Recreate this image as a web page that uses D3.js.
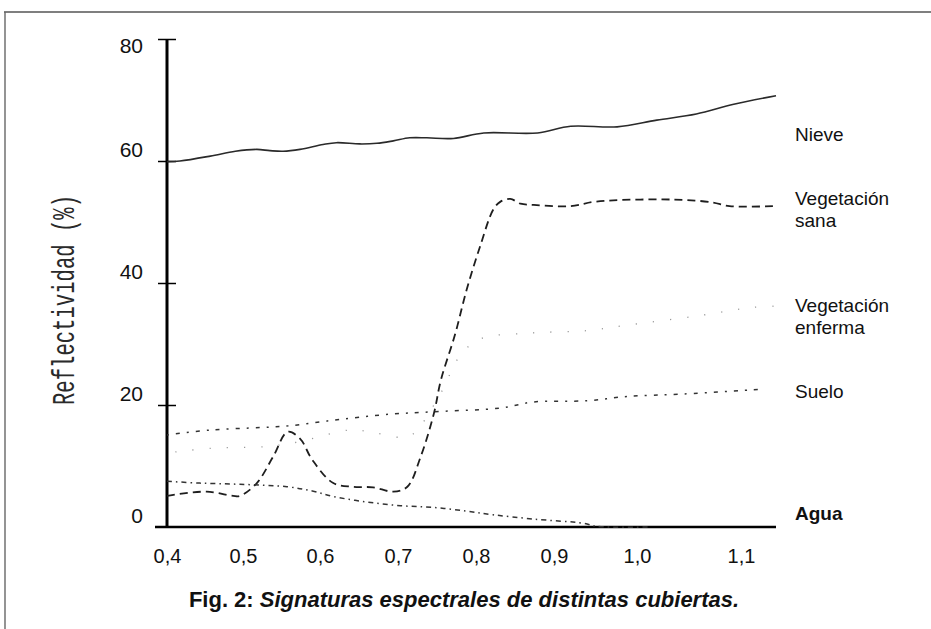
<!DOCTYPE html>
<html>
<head>
<meta charset="utf-8">
<script src="https://cdn.jsdelivr.net/npm/d3@7"></script>
<style>
  body { margin: 0; background: #fff; }
  svg { display: block; }
</style>
</head>
<body>
<script>
  // wavelength (µm) ticks and reflectance (%) ticks
  const waveTicks = [0.4, 0.5, 0.6, 0.7, 0.8, 0.9, 1.0, 1.1];
  const reflTicks = [0, 20, 40, 60, 80];

  // [wavelength, reflectance %]
  const nieve = [
    [0.40, 59.9], [0.417, 60.0], [0.457, 60.8], [0.49, 61.6], [0.518, 61.9],
    [0.535, 61.7], [0.552, 61.6], [0.574, 61.9], [0.604, 62.7], [0.621, 63.0],
    [0.651, 62.8], [0.673, 62.9], [0.694, 63.3], [0.715, 63.8], [0.737, 63.8],
    [0.771, 63.7], [0.81, 64.6], [0.879, 64.6], [0.92, 65.7], [0.976, 65.6],
    [1.019, 66.7], [1.057, 67.7], [1.093, 69.3], [1.134, 70.7]
  ];
  const vegSana = [
    [0.40, 5.1], [0.452, 5.8], [0.487, 5.1], [0.496, 5.1], [0.518, 7.2],
    [0.539, 11.5], [0.558, 15.6], [0.574, 14.5], [0.59, 11.0], [0.617, 7.2],
    [0.642, 6.6], [0.668, 6.5], [0.694, 5.8], [0.712, 6.6], [0.729, 11.5],
    [0.746, 18.6], [0.755, 24.1], [0.773, 31.5], [0.788, 38.9], [0.805, 45.9],
    [0.822, 52.0], [0.831, 53.3], [0.844, 53.8], [0.857, 53.0], [0.874, 52.8],
    [0.92, 52.6], [0.948, 53.3], [0.98, 53.6], [1.022, 53.7], [1.048, 53.6],
    [1.073, 53.2], [1.089, 52.6], [1.131, 52.6]
  ];
  const vegEnferma = [
    [0.411, 12.3], [0.457, 12.9], [0.531, 13.2], [0.574, 14.0], [0.638, 15.9],
    [0.668, 15.5], [0.703, 14.7], [0.719, 15.2], [0.755, 22.0], [0.779, 28.0],
    [0.805, 30.8], [0.87, 31.8], [0.94, 32.2], [0.983, 33.0], [1.058, 34.6],
    [1.111, 36.0], [1.134, 36.2]
  ];
  const suelo = [
    [0.40, 15.1], [0.457, 15.9], [0.522, 16.3], [0.561, 16.6], [0.617, 17.5],
    [0.681, 18.4], [0.746, 18.9], [0.831, 19.5], [0.874, 20.5], [0.94, 20.7],
    [0.988, 21.4], [1.044, 21.8], [1.121, 22.6]
  ];
  const agua = [
    [0.40, 7.5], [0.443, 7.2], [0.496, 7.0], [0.557, 6.6], [0.59, 5.9],
    [0.617, 5.0], [0.66, 4.1], [0.703, 3.5], [0.746, 3.2], [0.788, 2.6],
    [0.822, 2.0], [0.874, 1.3], [0.936, 0.6], [0.952, 0.1], [1.013, 0.0]
  ];

  const seriesNames = ["Nieve", "Vegetación sana", "Vegetación enferma", "Suelo", "Agua"];
  // label lines and the reflectance level where each label sits
  const labelLines = [["Nieve"], ["Vegetación", "sana"], ["Vegetación", "enferma"], ["Suelo"], ["Agua"]];
  const labelLevels = [63.3, 52.8, 35.2, 21.1, 1.15];

  const width = 931, height = 629;

  const svg = d3.select("body").append("svg")
    .attr("width", width)
    .attr("height", height)
    .style("font-family", "'Liberation Sans', Arial, sans-serif");

  // the hand-drawn axis is not evenly spaced past 1.0, so a piecewise scale
  const x = d3.scaleLinear()
    .domain([0.4, 0.5, 0.6, 0.7, 0.8, 0.9, 1.0, 1.1, 1.134])
    .range([167, 243, 320, 398, 476, 554, 637, 741, 776]);

  const y = d3.scaleLinear().domain([0, 80]).range([527, 39]);

  // frame of the figure
  svg.append("line")
    .attr("x1", 4).attr("x2", width).attr("y1", 12).attr("y2", 12)
    .attr("stroke", "#555").attr("stroke-width", 1.6);
  svg.append("line")
    .attr("x1", 5).attr("x2", 5).attr("y1", 12).attr("y2", height)
    .attr("stroke", "#666").attr("stroke-width", 1.4);

  // y axis
  const yAxis = svg.append("g")
    .attr("transform", `translate(${x(0.4)},0)`)
    .call(d3.axisLeft(y).tickValues(reflTicks).tickSize(9).tickPadding(15));
  yAxis.select(".domain").remove();
  yAxis.selectAll(".tick line").attr("x1", 9).attr("stroke", "#000").attr("stroke-width", 1.5);
  yAxis.selectAll(".tick").filter((d) => d === 0).select("line").remove();
  yAxis.selectAll(".tick text")
    .attr("font-size", 21)
    .attr("font-family", "'Liberation Sans', Arial, sans-serif")
    .attr("fill", "#111")
    .attr("dy", (d) => (d === 80 ? "0.65em" : "-0.2em"));

  svg.append("line")
    .attr("x1", x(0.4)).attr("x2", x(0.4))
    .attr("y1", y(80)).attr("y2", y(0) + 1)
    .attr("stroke", "#000").attr("stroke-width", 3);

  // x axis
  const xAxis = svg.append("g")
    .attr("transform", `translate(0,${y(0)})`)
    .call(d3.axisBottom(x).tickValues(waveTicks).tickSize(0).tickPadding(22)
      .tickFormat((d) => d.toFixed(1).replace(".", ",")));
  xAxis.select(".domain").remove();
  xAxis.selectAll(".tick text")
    .attr("font-size", 20)
    .attr("font-family", "'Liberation Sans', Arial, sans-serif")
    .attr("fill", "#111");

  svg.append("line")
    .attr("x1", 155).attr("x2", x(1.134))
    .attr("y1", y(0)).attr("y2", y(0))
    .attr("stroke", "#000").attr("stroke-width", 2.5);

  // y title
  svg.append("text")
    .attr("transform", `translate(74,${300}) rotate(-90)`)
    .attr("text-anchor", "middle")
    .attr("font-family", "'Liberation Mono', 'DejaVu Sans Mono', monospace")
    .attr("font-size", 32)
    .attr("textLength", 210)
    .attr("lengthAdjust", "spacingAndGlyphs")
    .attr("fill", "#2a2a2a")
    .text("Reflectividad  (%)");

  // curves
  const line = d3.line()
    .x((d) => x(d[0]))
    .y((d) => y(d[1]))
    .curve(d3.curveCatmullRom.alpha(0.5));

  const series = [nieve, vegSana, vegEnferma, suelo, agua];
  const styles = [
    { stroke: "#2a2a2a", width: 1.6, dash: null },
    { stroke: "#1e1e1e", width: 1.8, dash: "8,5" },
    { stroke: "#999", width: 1.3, dash: "1.2,16" },
    { stroke: "#333", width: 1.5, dash: "2,7,4,7" },
    { stroke: "#333", width: 1.5, dash: "5,4,1.5,4" },
  ];

  svg.append("g")
    .selectAll("path")
    .data(series)
    .join("path")
    .attr("class", (d, i) => "serie s" + i)
    .attr("d", line)
    .attr("fill", "none")
    .attr("stroke", (d, i) => styles[i].stroke)
    .attr("stroke-width", (d, i) => styles[i].width)
    .attr("stroke-dasharray", (d, i) => styles[i].dash);

  // series labels on the right
  const labels = svg.append("g")
    .selectAll("text")
    .data(seriesNames)
    .join("text")
    .attr("x", 795)
    .attr("y", (d, i) => y(labelLevels[i]))
    .attr("font-size", 19)
    .attr("font-weight", (d) => (d === "Agua" ? "bold" : "normal"))
    .attr("fill", "#111");

  labels.selectAll("tspan")
    .data((d, i) => labelLines[i])
    .join("tspan")
    .attr("x", 795)
    .attr("dy", (d, i) => (i === 0 ? 0 : 22))
    .text((d) => d);

  // caption
  const caption = svg.append("text")
    .attr("x", 464)
    .attr("y", 607)
    .attr("text-anchor", "middle")
    .attr("font-family", "'Liberation Sans', Arial, sans-serif")
    .attr("font-size", 22)
    .attr("font-weight", "bold")
    .attr("fill", "#111");
  caption.append("tspan").text("Fig. 2: ");
  caption.append("tspan").attr("font-style", "italic").text("Signaturas espectrales de distintas cubiertas.");
</script>
</body>
</html>
